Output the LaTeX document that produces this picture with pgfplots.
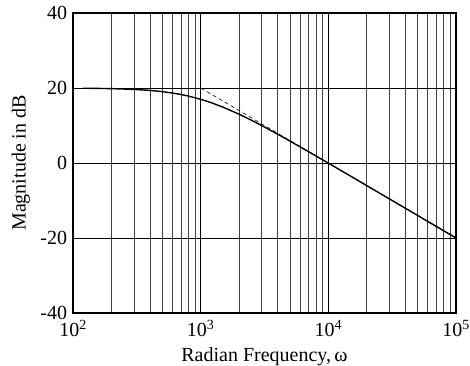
\documentclass[border=0pt]{standalone}
\usepackage{fontspec}
\setmainfont{Liberation Serif}
\usepackage{pgfplots}
\pgfplotsset{compat=1.18}
\pgfplotstableread{
w mag
120 19.94
150 19.90
200 19.83
300 19.63
400 19.36
500 19.03
600 18.66
700 18.27
800 17.85
1000 16.99
1200 16.13
1500 14.88
2000 13.01
2500 11.40
3000 10.00
4000 7.70
5000 5.85
6000 4.32
7000 3.01
8000 1.87
10000 -0.04
15000 -3.54
20000 -6.03
30000 -9.55
50000 -13.98
70000 -16.90
100000 -20.00
}\magtable
\begin{document}
\fontsize{20bp}{24bp}\selectfont
\begin{tikzpicture}
\begin{axis}[name=ax, xmode=log, scale only axis, width=383bp, height=300bp,
  xmin=100, xmax=100000, ymin=-40, ymax=40,
  xtick={100,1000,10000,100000},
  xticklabels={10\textsuperscript{2},10\textsuperscript{3},10\textsuperscript{4},10\textsuperscript{5}},
  minor xtick={200,300,400,500,600,700,800,900,2000,3000,4000,5000,6000,7000,8000,9000,20000,30000,40000,50000,60000,70000,80000,90000},
  ytick={-40,-20,0,20,40}, yticklabels={-40,-20,0,20,40},
  grid=both,
  major grid style={black, line width=0.7pt},
  minor grid style={black!75, line width=0.6pt},
  axis line style={line width=1.6pt},
  tick style={draw=none},
  tick label style={font=\fontsize{20bp}{24bp}\selectfont},
  yticklabel style={xshift=1bp},
  label style={font=\fontsize{20bp}{24bp}\selectfont},
  xlabel={Radian Frequency,\,ω}, ylabel={Magnitude in dB},
  xlabel style={yshift=3bp},
  ylabel style={yshift=-3bp},
]
\addplot[black, line width=1.4pt] table[x=w, y=mag] {\magtable};
\addplot[black, line width=0.6pt, dash pattern=on 4pt off 3pt] coordinates {(1000,20) (100000,-20)};
\end{axis}
\pgfresetboundingbox
\path ([shift={(-73bp,-53bp)}]ax.south west) rectangle ([shift={(14bp,13bp)}]ax.north east);
\end{tikzpicture}
\end{document}
